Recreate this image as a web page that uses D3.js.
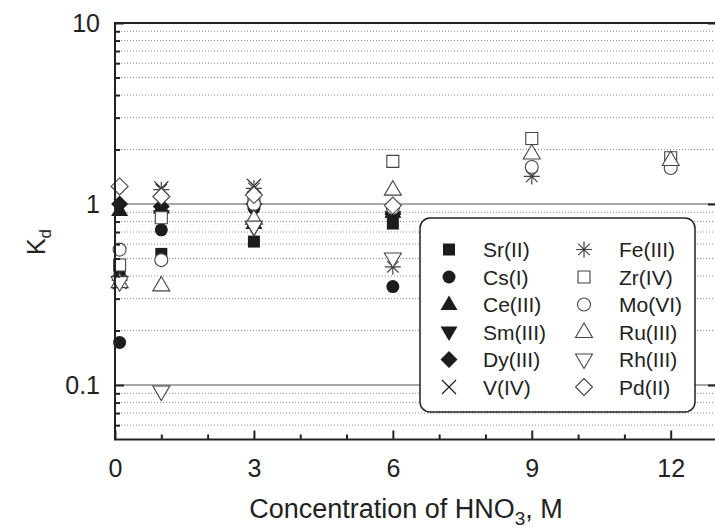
<!DOCTYPE html>
<html>
<head>
<meta charset="utf-8">
<script src="https://cdn.jsdelivr.net/npm/d3@7"></script>
<style>
  body { margin: 0; background: #ffffff; }
  text { font-family: "Liberation Sans", Arial, sans-serif; fill: #222; }
</style>
</head>
<body>
<svg id="chart" width="715" height="531"></svg>
<script>
// HNO3 concentration (M) at which Kd was measured
var concentrations = [0.1, 1, 3, 6, 9, 12];

// series names, marker shape, filled or open (legend order)
var seriesNames = ["Sr(II)", "Cs(I)", "Ce(III)", "Sm(III)", "Dy(III)", "V(IV)",
                   "Fe(III)", "Zr(IV)", "Mo(VI)", "Ru(III)", "Rh(III)", "Pd(II)"];
var seriesMarkers = ["square", "circle", "triangle", "triangleDown", "diamond", "cross",
                     "star", "square", "circle", "triangle", "triangleDown", "diamond"];
var seriesFilled = [true, true, true, true, true, true,
                    false, false, false, false, false, false];

// Kd values, one per concentration (null = not measured)
var srValues = [0.43, 0.53, 0.62, 0.78, null, null];
var csValues = [0.172, 0.72, 0.95, 0.35, null, null];
var ceValues = [0.92, 0.95, 0.78, 0.9, null, null];
var smValues = [0.37, 0.86, 0.74, 0.85, null, null];
var dyValues = [1.0, 0.97, 1.0, 0.88, null, null];
var vValues = [0.37, 1.22, 1.26, 0.92, null, null];
var feValues = [0.38, 1.2, 1.22, 0.45, 1.42, null];
var zrValues = [0.46, 0.84, 1.05, 1.72, 2.3, 1.8];
var moValues = [0.56, 0.49, 1.0, 0.95, 1.6, 1.58];
var ruValues = [0.37, 0.355, 0.83, 1.2, 1.9, 1.75];
var rhValues = [0.37, 0.092, 0.75, 0.5, null, null];
var pdValues = [1.25, 1.1, 1.12, 0.98, null, null];

var allValues = [srValues, csValues, ceValues, smValues, dyValues, vValues,
                 feValues, zrValues, moValues, ruValues, rhValues, pdValues];

// axis ticks
var xMajorTicks = [0, 3, 6, 9, 12];
var xMinorTicks = [1, 2, 4, 5, 7, 8, 10, 11, 13];
var yMajorTicks = [0.1, 1, 10];
var yTickLabels = ["0.1", "1", "10"];
var yMinorTicks = [0.06, 0.07, 0.08, 0.09, 0.2, 0.3, 0.4, 0.5, 0.6, 0.7, 0.8, 0.9,
                   2, 3, 4, 5, 6, 7, 8, 9];

var plotLeft = 115, plotRight = 717, plotTop = 23, plotBottom = 439.5;

var svg = d3.select("#chart");

var x = d3.scaleLinear().domain([0, 13]).range([plotLeft, plotRight]);
var y = d3.scaleLog().domain([0.05, 10]).range([plotBottom, plotTop]);

// dotted minor grid
svg.append("g")
  .selectAll("line")
  .data(yMinorTicks)
  .enter().append("line")
  .attr("x1", plotLeft).attr("x2", plotRight)
  .attr("y1", d => y(d)).attr("y2", d => y(d))
  .attr("stroke", "#8a8a8a")
  .attr("stroke-width", 1)
  .attr("stroke-dasharray", "1,2");

// solid grid at decades
svg.append("g")
  .selectAll("line")
  .data([0.1, 1])
  .enter().append("line")
  .attr("x1", plotLeft).attr("x2", plotRight)
  .attr("y1", d => y(d)).attr("y2", d => y(d))
  .attr("stroke", "#a8a8a8")
  .attr("stroke-width", 2);

// marker shapes
function markerPath(type) {
  switch (type) {
    case "square": return "M-6,-6H6V6H-6Z";
    case "circle": return d3.symbol().type(d3.symbolCircle).size(Math.PI * 6.5 * 6.5)();
    case "triangle": return "M0,-9L8.5,5.5H-8.5Z";
    case "triangleDown": return "M0,9L8.5,-5.5H-8.5Z";
    case "diamond": return "M0,-8.5L8.5,0L0,8.5L-8.5,0Z";
    case "cross": return "M-7,-7L7,7M-7,7L7,-7";
    case "star": return "M0,-8V8M-8,0H8M-5.7,-5.7L5.7,5.7M-5.7,5.7L5.7,-5.7";
  }
}

function styleMarker(sel, i) {
  var m = seriesMarkers[i];
  var line = (m == "cross" || m == "star");
  if (seriesFilled[i] && !line) {
    sel.attr("fill", "#1c1c1c").attr("stroke", "none");
  } else if (line) {
    sel.attr("fill", "none").attr("stroke", seriesFilled[i] ? "#1c1c1c" : "#444").attr("stroke-width", 1.2);
  } else {
    sel.attr("fill", "#ffffff").attr("stroke", "#444").attr("stroke-width", 1.1);
  }
}

// draw points series by series
allValues.forEach(function (vals, i) {
  var pts = concentrations.map((c, j) => ({ c: c, v: vals[j] })).filter(p => p.v != null);
  svg.append("g")
    .selectAll("path")
    .data(pts)
    .enter().append("path")
    .attr("d", markerPath(seriesMarkers[i]))
    .attr("transform", d => "translate(" + x(d.c) + "," + y(d.v) + ")")
    .call(styleMarker, i);
});

// axes with inward ticks
var xAxisMajor = d3.axisBottom(x).tickValues(xMajorTicks).tickSize(-9).tickPadding(20).tickFormat(d3.format("d"));
var xAxisMinor = d3.axisBottom(x).tickValues(xMinorTicks).tickSize(-5).tickFormat("");
var yAxisMajor = d3.axisLeft(y).tickValues(yMajorTicks).tickSize(-9).tickPadding(15)
  .tickFormat((d, i) => yTickLabels[i]);
var yAxisMinor = d3.axisLeft(y).tickValues(yMinorTicks).tickSize(-5).tickFormat("");

function styleAxis(g) {
  g.select(".domain").remove();
  g.selectAll(".tick line").attr("stroke", "#222").attr("stroke-width", 2);
  g.selectAll("text").attr("font-size", "25px").attr("fill", "#222")
    .style("font-family", "'Liberation Sans', Arial, sans-serif");
}

svg.append("g").attr("transform", "translate(0," + plotBottom + ")").call(xAxisMajor).call(styleAxis);
svg.append("g").attr("transform", "translate(0," + plotBottom + ")").call(xAxisMinor).call(styleAxis);
svg.append("g").attr("transform", "translate(" + plotLeft + ",0)").call(yAxisMajor).call(styleAxis);
svg.append("g").attr("transform", "translate(" + plotLeft + ",0)").call(yAxisMinor).call(styleAxis);
svg.append("g").attr("transform", "translate(" + plotRight + ",0)")
  .call(d3.axisRight(y).tickValues(yMajorTicks).tickSize(-9).tickFormat("")).call(styleAxis);

// frame
svg.append("rect")
  .attr("x", plotLeft).attr("y", plotTop)
  .attr("width", plotRight - plotLeft).attr("height", plotBottom - plotTop)
  .attr("fill", "none").attr("stroke", "#222").attr("stroke-width", 2);

// axis titles
var xt = svg.append("text")
  .attr("x", 406).attr("y", 518)
  .attr("text-anchor", "middle")
  .attr("font-size", "27px");
xt.append("tspan").text("Concentration of HNO");
xt.append("tspan").attr("font-size", "19px").attr("dy", 7).text("3");
xt.append("tspan").attr("dy", -7).text(", M");

var yt = svg.append("text")
  .attr("transform", "translate(45,242) rotate(-90)")
  .attr("text-anchor", "middle")
  .attr("font-size", "25px");
yt.append("tspan").text("K");
yt.append("tspan").attr("font-size", "17px").attr("dy", 6).text("d");

// legend
var legend = svg.append("g");
legend.append("rect")
  .attr("x", 420).attr("y", 218)
  .attr("width", 275).attr("height", 194)
  .attr("rx", 10).attr("ry", 10)
  .attr("fill", "#ffffff").attr("stroke", "#222").attr("stroke-width", 1.5);

seriesNames.forEach(function (name, i) {
  var col = i < 6 ? 0 : 1;
  var row = i % 6;
  var sx = col == 0 ? 449 : 584;
  var tx = col == 0 ? 483 : 619;
  var ly = 249.5 + row * 27.5;
  legend.append("path")
    .attr("d", markerPath(seriesMarkers[i]))
    .attr("transform", "translate(" + sx + "," + ly + ")")
    .call(styleMarker, i);
  legend.append("text")
    .attr("x", tx).attr("y", ly)
    .attr("dy", "0.36em")
    .attr("font-size", "21px")
    .text(name);
});
</script>
</body>
</html>
